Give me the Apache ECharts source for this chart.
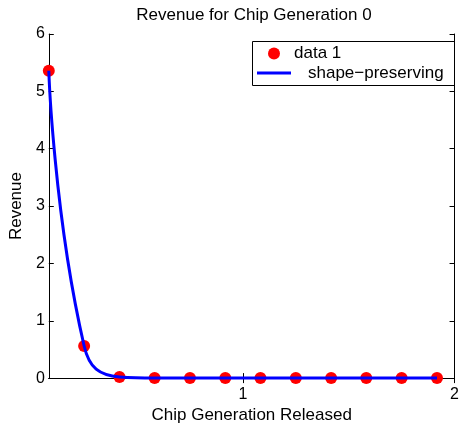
<!DOCTYPE html>
<html>
<head>
<meta charset="utf-8">
<script src="https://cdn.jsdelivr.net/npm/echarts@6/dist/echarts.min.js"></script>
<style>
  html, body { margin: 0; padding: 0; background: #fff; }
  #chart { width: 462px; height: 429px; }
</style>
</head>
<body>
<div id="chart"></div>
<script>
// Chip generation release points and the revenue observed at each
const releases = [0.083, 0.25, 0.417, 0.583, 0.75, 0.917, 1.083, 1.25, 1.417, 1.583, 1.75, 1.917];
const revenue = [5.36, 0.56, 0.02, 0, 0, 0, 0, 0, 0, 0, 0, 0];
const xTicks = [1, 2];
const yTicks = [0, 1, 2, 3, 4, 5, 6];

const points = releases.map((x, i) => [x, revenue[i]]);
const FONT = 'Liberation Sans, Arial, Helvetica, sans-serif';

const chart = echarts.init(document.getElementById('chart'), null, { renderer: 'canvas' });

const frameAxis = {
  axisLine: { show: true, lineStyle: { color: '#000', width: 1 } },
  splitLine: { show: false }
};

chart.setOption({
  animation: false,
  backgroundColor: '#fff',
  title: {
    text: 'Revenue for Chip Generation 0',
    left: 254, top: 7, textAlign: 'center', padding: 0,
    textStyle: { fontFamily: FONT, fontSize: 17, fontWeight: 'normal', color: '#000' }
  },
  grid: { left: 47, right: 5, top: 34, bottom: 49, containLabel: false },
  xAxis: [
    Object.assign({}, frameAxis, {
      type: 'value', position: 'bottom', min: releases[0], max: 2,
      name: 'Chip Generation Released', nameLocation: 'middle', nameGap: 23,
      nameTextStyle: { fontFamily: FONT, fontSize: 17, color: '#000' },
      axisTick: { show: true, inside: true, length: 5, customValues: xTicks, lineStyle: { color: '#000' } },
      axisLabel: { show: true, customValues: xTicks, margin: 8, fontFamily: FONT, fontSize: 16, color: '#000' }
    }),
    Object.assign({}, frameAxis, {
      type: 'value', position: 'top', min: releases[0], max: 2,
      axisTick: { show: true, inside: true, length: 5, customValues: xTicks, lineStyle: { color: '#000' } },
      axisLabel: { show: false }
    })
  ],
  yAxis: [
    Object.assign({}, frameAxis, {
      type: 'value', position: 'left', min: 0, max: 6, interval: 1,
      name: 'Revenue', nameLocation: 'middle', nameGap: 17, nameRotate: 90,
      nameTextStyle: { fontFamily: FONT, fontSize: 17, color: '#000' },
      axisTick: { show: true, inside: true, length: 5, customValues: yTicks, lineStyle: { color: '#000' } },
      axisLabel: { show: true, margin: 4, fontFamily: FONT, fontSize: 16, color: '#000' }
    }),
    Object.assign({}, frameAxis, {
      type: 'value', position: 'right', min: 0, max: 6, interval: 1,
      axisTick: { show: true, inside: true, length: 5, lineStyle: { color: '#000' } },
      axisLabel: { show: false }
    })
  ],
  legend: [
    {
      data: ['data 1'], left: 268, top: 45, orient: 'vertical', padding: 0,
      icon: 'circle', itemWidth: 12, itemHeight: 12,
      textStyle: { fontFamily: FONT, fontSize: 17, color: '#000', padding: [0, 0, 0, 9] }
    },
    {
      data: ['shape\u2212preserving'], left: 257, top: 64.5, orient: 'vertical', padding: 0,
      icon: 'rect', itemWidth: 34, itemHeight: 3,
      textStyle: { fontFamily: FONT, fontSize: 17, color: '#000', padding: [0, 0, 0, 12] }
    }
  ],
  graphic: [{
    type: 'rect', left: 250, top: 39, z: 100,
    shape: { width: 202, height: 44 },
    style: { fill: 'none', stroke: '#000', lineWidth: 1 }
  }],
  series: [
    {
      name: 'data 1', type: 'scatter', data: points,
      symbol: 'circle', symbolSize: 12, clip: false,
      itemStyle: { color: '#ff0000', opacity: 1 }, z: 3
    },
    {
      name: 'shape\u2212preserving', type: 'line', data: points,
      smooth: 0.5, showSymbol: false, symbol: 'none', clip: false,
      lineStyle: { color: '#0000ff', width: 3 }, itemStyle: { color: '#0000ff' }, z: 4
    }
  ]
});
</script>
</body>
</html>
